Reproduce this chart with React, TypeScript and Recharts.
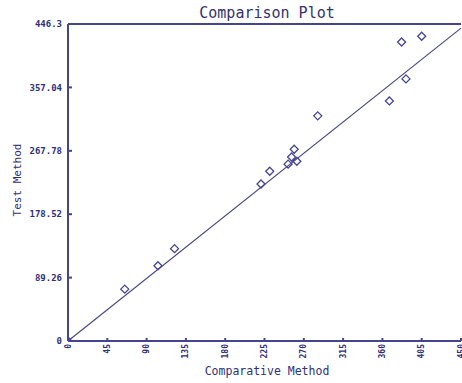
import React from "react";
import {
  ScatterChart,
  Scatter,
  XAxis,
  YAxis,
  ReferenceLine,
} from "recharts";

// values
const comparative = [0, 65, 103, 122, 221, 231, 252, 256, 259, 262, 286, 368, 387, 382, 405];
const test = [0, 73, 106, 130, 221, 239, 249, 259, 270, 253, 317, 338, 369, 421, 429];

const xTicks = [0, 45, 90, 135, 180, 225, 270, 315, 360, 405, 450];
const yTicks = [0, 89.26, 178.52, 267.78, 357.04, 446.3];
const yTickLabels = ["0", "89.26", "178.52", "267.78", "357.04", "446.3"];

// fitted line ends
const fitX = [0, 450];
const fitY = [0, 440.5];

const navy = "#45458f";
const textNavy = "#2f2f7a";
const mono = "'DejaVu Sans Mono', monospace";

const points = comparative.map((x, i) => ({ x, y: test[i] }));

const Diamond = (props: any) => {
  const { cx, cy } = props;
  if (cx == null || cy == null) return null;
  const r = 4;
  return (
    <polygon
      points={`${cx},${cy - r} ${cx + r},${cy} ${cx},${cy + r} ${cx - r},${cy}`}
      fill="none"
      stroke={navy}
      strokeWidth={1.3}
    />
  );
};

const XTick = (props: any) => {
  const { x, y, payload } = props;
  return (
    <text
      x={x}
      y={y}
      transform={`rotate(-90, ${x}, ${y})`}
      textAnchor="end"
      dominantBaseline="central"
      fontFamily={mono}
      fontSize={8}
      fontWeight="bold"
      fill={textNavy}
    >
      {payload.value}
    </text>
  );
};

export default function App() {
  return (
    <div style={{ position: "absolute", left: 0, top: 0, width: 462, height: 383, background: "#fff" }}>
      <ScatterChart width={462} height={383} margin={{ top: 24, right: 1, left: 0, bottom: 0 }}>
        <XAxis
          type="number"
          dataKey="x"
          domain={[0, 450]}
          ticks={xTicks}
          height={42}
          stroke={navy}
          strokeWidth={2}
          tickSize={3}
          tickLine={{ stroke: navy, transform: "translate(0,-3)" }}
          tick={<XTick />}
          tickMargin={0}
          interval={0}
          allowDataOverflow
        />
        <YAxis
          type="number"
          dataKey="y"
          domain={[0, 446.3]}
          ticks={yTicks}
          width={68}
          stroke={navy}
          strokeWidth={2}
          tickSize={4}
          tickLine={{ stroke: navy, transform: "translate(4,0)" }}
          tickFormatter={(v: number) => yTickLabels[yTicks.indexOf(v)] ?? String(v)}
          tick={{ fontFamily: mono, fontSize: 9, fontWeight: "bold", fill: textNavy }}
          interval={0}
          allowDataOverflow
        />
        <ReferenceLine y={446.3} stroke={navy} strokeWidth={2} />
        <ReferenceLine
          segment={[
            { x: fitX[0], y: fitY[0] },
            { x: fitX[1], y: fitY[1] },
          ]}
          stroke="#4a4a80"
          strokeWidth={1.2}
        />
        <Scatter data={points} shape={<Diamond />} isAnimationActive={false} />
        <text x={267} y={18} textAnchor="middle" fontFamily={mono} fontSize={15} fill="#333370">
          Comparison Plot
        </text>
        <text x={267} y={375} textAnchor="middle" fontFamily={mono} fontSize={11.5} fill={textNavy}>
          Comparative Method
        </text>
        <text
          x={21}
          y={180}
          textAnchor="middle"
          transform="rotate(-90, 21, 180)"
          fontFamily={mono}
          fontSize={11}
          fill={textNavy}
        >
          Test Method
        </text>
      </ScatterChart>
    </div>
  );
}
